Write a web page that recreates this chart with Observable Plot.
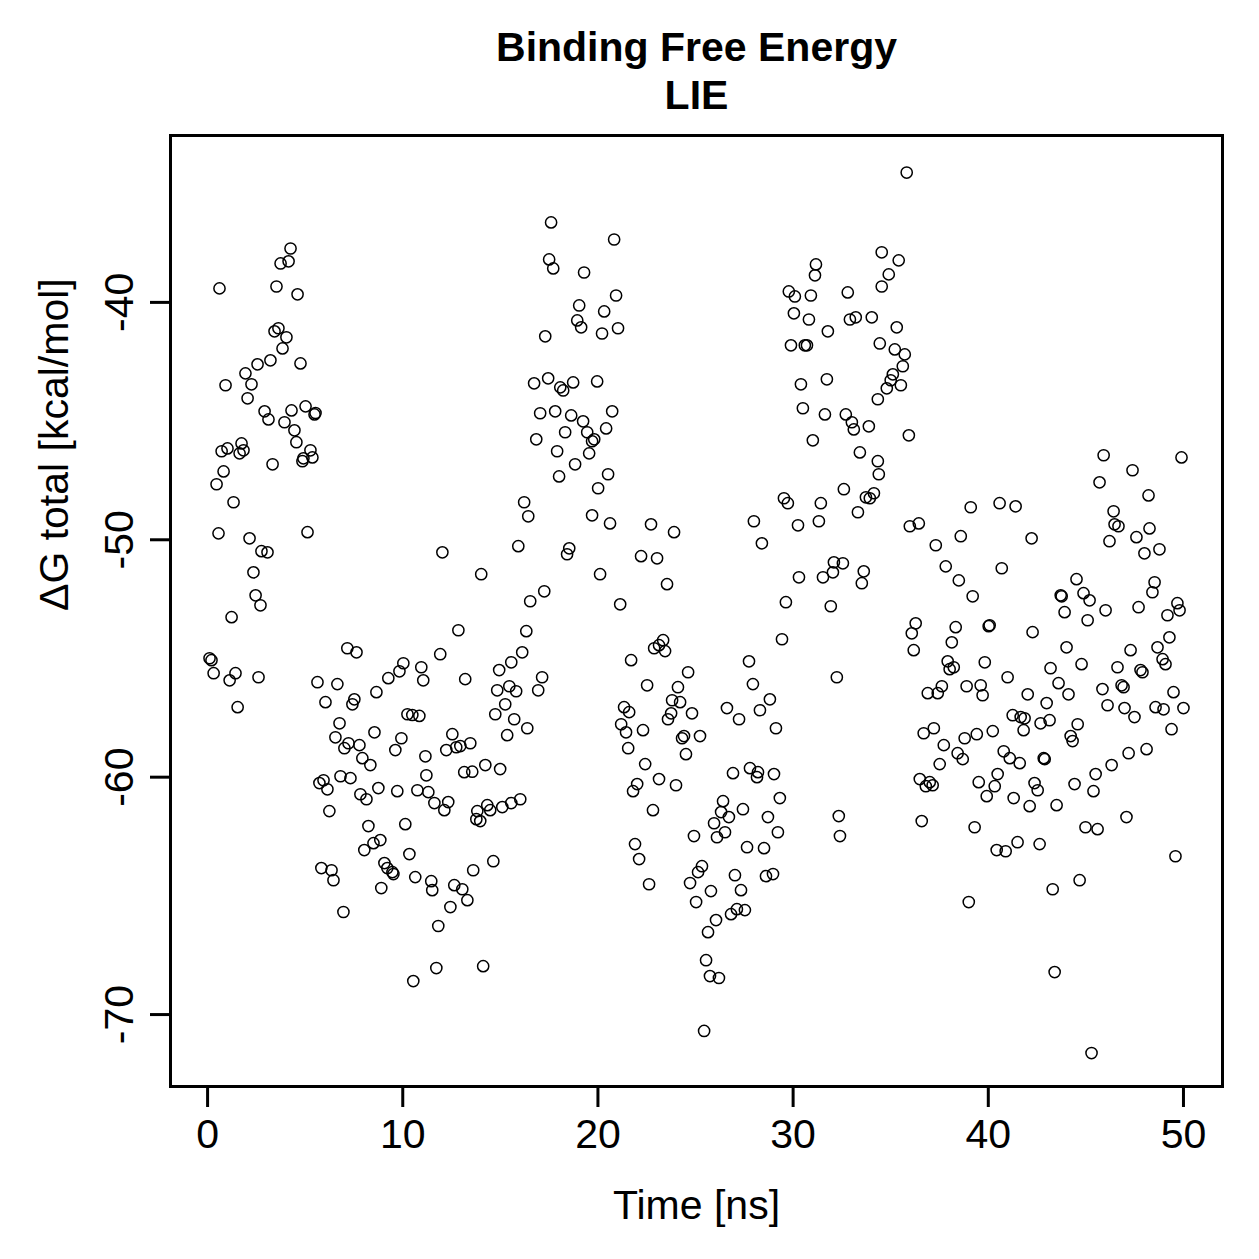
<!DOCTYPE html>
<html>
<head>
<meta charset="utf-8">
<script src="https://cdn.jsdelivr.net/npm/d3@7"></script>
<script src="https://cdn.jsdelivr.net/npm/@observablehq/plot@0.6"></script>
<style>
  html, body { margin: 0; padding: 0; background: #ffffff; }
  #chart svg { display: block; }
</style>
</head>
<body>
<div id="chart"></div>
<script>
// LIE binding free energy samples, [time (ns), ΔG total (kcal/mol)], grouped by trajectory window
const window1 = [
  [0.10,-54.99],[0.20,-55.07],[0.31,-55.62],[0.46,-47.66],[0.56,-49.73],[0.61,-39.41],[0.72,-46.27],
  [0.82,-47.12],[0.92,-43.49],[1.02,-46.15],[1.13,-55.92],[1.23,-53.26],[1.33,-48.42],[1.43,-55.62],
  [1.54,-57.05],[1.64,-46.36],[1.74,-45.94],[1.84,-46.23],[1.94,-42.99],[2.05,-44.04],[2.15,-49.94],
  [2.25,-43.45],[2.35,-51.37],[2.46,-52.34],[2.56,-42.61],[2.61,-55.79],[2.71,-52.76],[2.76,-50.48],
  [2.92,-44.59],[3.07,-50.53],[3.12,-44.93],[3.22,-42.44],[3.33,-46.82],[3.43,-41.22],[3.53,-39.33],
  [3.63,-41.09],[3.74,-38.36],[3.84,-41.94],[3.94,-45.05],[4.04,-41.47],[4.15,-38.27],[4.25,-37.73],
  [4.30,-44.55],[4.45,-45.39],[4.55,-45.89],[4.61,-39.66],[4.76,-42.57],[4.86,-46.69],[4.91,-46.57],
  [5.02,-44.38],[5.12,-49.68],[5.27,-46.23],[5.37,-46.53],[5.48,-44.72],[5.53,-44.66]
];
const window2 = [
  [5.63,-56.00],[6.04,-56.84],[5.73,-60.25],[5.94,-60.13],[6.14,-60.51],[5.83,-63.83],[6.35,-63.92],
  [6.45,-64.34],[6.24,-61.43],[6.65,-56.08],[6.76,-57.73],[6.55,-58.32],[6.81,-59.96],[6.96,-65.68],
  [7.16,-54.57],[7.22,-58.57],[7.01,-58.78],[7.32,-60.04],[7.52,-56.72],[7.42,-56.93],[7.63,-54.74],
  [7.78,-58.65],[7.83,-60.72],[7.93,-59.20],[8.14,-60.93],[8.03,-63.07],[8.24,-62.06],[8.34,-59.49],
  [8.50,-62.78],[8.55,-58.11],[8.65,-56.42],[8.75,-60.46],[8.85,-62.65],[8.90,-64.67],[9.06,-63.62],
  [9.21,-63.83],[9.47,-64.00],[9.52,-64.08],[9.26,-55.83],[9.62,-58.86],[9.72,-60.59],[9.83,-55.54],
  [9.93,-58.36],[10.03,-55.20],[10.13,-61.98],[10.24,-57.35],[10.34,-63.24],[10.49,-57.38],[10.54,-68.59],
  [10.64,-64.21],[10.75,-60.55],[10.85,-57.42],[10.95,-55.37],[11.05,-55.92],[11.16,-59.12],[11.21,-59.92],
  [11.31,-60.63],[11.46,-64.38],[11.51,-64.76],[11.62,-61.09],[11.72,-68.04],[11.82,-66.27],[11.92,-54.82],
  [12.03,-50.53],[12.13,-61.39],[12.23,-58.86],[12.33,-61.05],[12.44,-65.47],[12.54,-58.19],[12.64,-64.55],
  [12.74,-58.74],[12.85,-53.81],[12.95,-58.69],[13.05,-64.72],[13.15,-59.79],[13.20,-55.87],[13.31,-65.18],
  [13.46,-58.57],[13.56,-59.77],[13.61,-63.92],[13.77,-61.77],[13.82,-61.43],[13.97,-61.85],[14.02,-51.45],
  [14.12,-67.96],[14.23,-59.49],[14.33,-61.18],[14.48,-61.39],[14.64,-63.54],[14.74,-57.35],[14.84,-56.34],
  [14.94,-55.49],[14.99,-59.66],[15.10,-61.26],[15.25,-56.93],[15.35,-58.23],[15.46,-56.17],[15.56,-55.16],
  [15.56,-61.09],[15.71,-57.56],[15.81,-56.38],[15.92,-50.27],[16.02,-60.93],[16.12,-54.74],[16.22,-48.42],
  [16.33,-53.85],[16.38,-57.94],[16.43,-49.01],[16.53,-52.59]
];
const window3 = [
  [16.73,-43.41],[17.45,-43.20],[18.07,-43.58],[18.22,-43.71],[18.73,-43.37],[19.96,-43.33],[17.04,-44.67],
  [17.81,-44.59],[18.63,-44.76],[19.24,-45.01],[20.73,-44.59],[18.32,-45.47],[19.45,-45.47],[19.70,-45.85],
  [19.81,-45.77],[20.42,-45.31],[16.84,-45.77],[17.91,-46.27],[19.55,-46.36],[18.83,-46.82],[17.60,-36.63],
  [20.83,-37.35],[17.50,-38.19],[17.71,-38.57],[19.29,-38.74],[20.93,-39.71],[19.04,-40.13],[20.32,-40.38],
  [18.94,-40.76],[19.14,-41.05],[17.30,-41.43],[20.21,-41.31],[21.03,-41.09],[18.01,-47.33],[20.52,-47.24],
  [20.01,-47.83],[19.70,-48.97],[20.62,-49.31],[22.72,-49.35],[23.90,-49.68],[18.53,-50.36],[18.42,-50.61],
  [22.21,-50.69],[23.03,-50.78],[20.11,-51.45],[23.54,-51.87],[17.25,-52.17],[21.14,-52.72],[23.34,-54.23],
  [23.13,-54.44],[22.88,-54.57],[23.44,-54.69],[21.70,-55.07],[24.62,-55.58],[22.52,-56.13],[24.10,-56.21],
  [17.14,-55.79],[16.94,-56.34],[23.80,-56.76],[24.21,-56.84],[21.34,-57.05],[21.60,-57.26],[23.75,-57.31],
  [23.59,-57.56],[24.82,-57.31],[21.19,-57.77],[21.44,-58.11],[22.31,-58.02],[24.41,-58.27],[24.31,-58.36],
  [25.23,-58.27],[21.55,-58.78],[24.51,-59.03],[22.42,-59.45],[22.01,-60.29],[23.13,-60.08],[24.00,-60.34],
  [21.80,-60.59],[22.82,-61.39],[21.90,-62.82],[22.11,-63.45],[22.62,-64.51]
];
const window4 = [
  [27.74,-55.12],[27.94,-56.08],[28.81,-56.72],[26.61,-57.09],[27.23,-57.56],[28.30,-57.18],[29.12,-57.94],
  [26.92,-59.83],[27.79,-59.62],[28.20,-59.79],[28.15,-60.00],[29.02,-59.87],[26.41,-61.01],[27.43,-61.35],
  [26.31,-61.47],[26.71,-61.68],[25.95,-61.94],[24.92,-62.48],[26.10,-62.53],[26.51,-62.32],[29.32,-60.88],
  [28.71,-61.68],[29.22,-62.32],[27.64,-62.95],[28.51,-62.99],[25.33,-63.75],[25.13,-64.00],[24.72,-64.46],
  [25.79,-64.80],[25.03,-65.26],[27.02,-64.13],[27.33,-64.76],[28.97,-64.08],[28.61,-64.17],[26.05,-66.02],
  [25.64,-66.53],[26.82,-65.77],[27.12,-65.56],[27.53,-65.60],[25.54,-67.71],[25.74,-68.38],[26.20,-68.46],
  [25.44,-70.69]
];
const window5 = [
  [31.17,-38.40],[31.12,-38.86],[29.78,-39.54],[30.09,-39.75],[30.91,-39.71],[32.80,-39.58],[34.54,-37.89],
  [34.54,-39.33],[30.04,-40.46],[30.81,-40.72],[31.78,-41.22],[32.91,-40.72],[33.21,-40.63],[34.03,-40.63],
  [34.44,-41.73],[29.89,-41.81],[30.60,-41.81],[30.71,-41.81],[30.40,-43.45],[31.73,-43.24],[30.50,-44.46],
  [31.63,-44.72],[32.70,-44.72],[33.01,-45.05],[33.11,-45.35],[33.88,-45.22],[31.01,-45.81],[33.42,-46.32],
  [34.34,-46.69],[34.34,-44.08],[35.82,-34.53],[35.41,-38.23],[34.90,-38.82],[35.31,-41.05],[35.21,-41.98],
  [35.72,-42.19],[35.62,-42.69],[35.11,-43.03],[35.00,-43.28],[34.80,-43.62],[35.52,-43.49],[35.93,-45.60],
  [34.39,-47.24],[29.43,-54.19],[32.24,-55.79],[29.63,-52.63],[31.93,-52.80],[30.30,-51.58],[31.53,-51.58],
  [32.04,-51.37],[32.09,-50.95],[32.55,-50.99],[33.62,-51.33],[33.52,-51.83],[27.99,-49.22],[28.40,-50.15],
  [29.53,-48.25],[29.73,-48.46],[30.25,-49.39],[31.32,-49.22],[31.42,-48.46],[32.60,-47.87],[33.32,-48.84],
  [33.73,-48.21],[33.93,-48.25],[34.14,-48.04],[32.34,-61.64],[32.40,-62.48]
];
const window6 = [
  [45.91,-46.44],[49.90,-46.53],[47.39,-47.07],[45.70,-47.58],[48.21,-48.13],[46.42,-48.80],[46.47,-49.35],
  [46.67,-49.43],[48.26,-49.52],[46.21,-50.06],[47.59,-49.89],[48.00,-50.57],[48.77,-50.40],[39.10,-48.63],
  [40.58,-48.46],[41.40,-48.59],[35.98,-49.43],[36.44,-49.31],[38.59,-49.85],[42.22,-49.94],[37.31,-50.23],
  [37.82,-51.12],[40.69,-51.20],[38.49,-51.71],[39.20,-52.38],[44.52,-51.66],[43.71,-52.34],[43.76,-52.38],
  [44.88,-52.25],[45.19,-52.55],[43.91,-53.05],[45.09,-53.39],[46.01,-52.97],[47.70,-52.84],[48.52,-51.79],
  [48.41,-52.21],[49.69,-52.67],[49.80,-52.97],[49.18,-53.18],[36.28,-53.52],[36.08,-53.94],[36.18,-54.65],
  [38.33,-53.68],[38.13,-54.32],[40.02,-53.64],[40.07,-53.60],[42.27,-53.89],[44.01,-54.53],[44.78,-55.24],
  [43.19,-55.41],[43.60,-56.04],[44.11,-56.51],[45.85,-56.29],[46.11,-56.97],[46.98,-57.09],[47.49,-57.47],
  [46.62,-55.37],[47.29,-54.65],[47.80,-55.49],[47.90,-55.58],[46.83,-56.13],[46.93,-56.21],[49.28,-54.11],
  [48.67,-54.53],[48.93,-55.03],[49.08,-55.24],[49.49,-56.42],[48.57,-57.05],[48.98,-57.14],[50.00,-57.09],
  [49.39,-57.98],[48.11,-58.82],[47.19,-58.99],[46.32,-59.49],[45.50,-59.87],[37.92,-55.12],[38.02,-55.45],
  [38.23,-55.37],[39.82,-55.16],[40.99,-55.79],[37.62,-56.17],[37.41,-56.46],[36.90,-56.46],[38.89,-56.17],
  [39.61,-56.13],[39.71,-56.55],[42.02,-56.51],[42.99,-56.88],[41.25,-57.39],[41.66,-57.47],[41.86,-57.52],
  [41.81,-58.02],[42.68,-57.73],[43.14,-57.60],[44.58,-57.77],[44.22,-58.27],[44.32,-58.48],[36.69,-58.15],
  [37.21,-57.94],[37.72,-58.65],[38.79,-58.36],[39.41,-58.19],[40.23,-58.06],[38.43,-58.99],[38.69,-59.24],
  [37.51,-59.45],[40.79,-58.91],[41.10,-59.20],[41.61,-59.41],[42.84,-59.20],[42.89,-59.24],[40.48,-59.87],
  [36.49,-60.08],[36.80,-60.38],[37.00,-60.21],[37.15,-60.34],[39.51,-60.21],[40.33,-60.38],[42.37,-60.25],
  [44.42,-60.29],[39.92,-60.80],[41.30,-60.88],[42.53,-60.55],[42.12,-61.22],[43.50,-61.18],[45.39,-60.59],
  [47.08,-61.68],[44.98,-62.11],[45.60,-62.19],[36.59,-61.85],[39.30,-62.11],[41.50,-62.74],[40.43,-63.07],
  [40.89,-63.12],[42.63,-62.82],[49.59,-63.33],[44.68,-64.34],[43.30,-64.72],[39.00,-65.26],[43.40,-68.21],
  [45.29,-71.62]
];

const xTicks = [0, 10, 20, 30, 40, 50];
const yTicks = [-70, -60, -50, -40];
const titleLines = ["Binding Free Energy", "LIE"];
const xLabel = "Time [ns]";
const yLabel = "ΔG total [kcal/mol]";

const samples = [window1, window2, window3, window4, window5, window6]
  .flat()
  .map(([t, g]) => ({time: t, dG: g}));

const fontSize = 41;

const chart = Plot.plot({
  width: 1259,
  height: 1259,
  marginLeft: 170,
  marginRight: 37,
  marginTop: 135,
  marginBottom: 173,
  style: {
    fontFamily: "'Liberation Sans', Arial, Helvetica, sans-serif",
    background: "#ffffff",
    color: "#000000"
  },
  // data range padded by 4% on each side
  x: {domain: [-1.9, 52.0]},
  y: {domain: [-73.03, -32.97]},
  marks: [
    Plot.dot(samples, {
      x: "time", y: "dG",
      r: 5.6, fill: "none", stroke: "#000000", strokeWidth: 1.5
    }),
    Plot.frame({stroke: "#000000", strokeWidth: 3}),
    Plot.axisX({
      ticks: xTicks, tickSize: 21, tickPadding: 11,
      strokeWidth: 3, fontSize, label: null,
      tickFormat: (d) => String(d)
    }),
    Plot.axisY({
      ticks: yTicks, tickSize: 20, tickPadding: 18, tickRotate: -90,
      strokeWidth: 3, fontSize, label: null,
      tickFormat: (d) => String(d)
    }),
    Plot.text([xLabel], {
      frameAnchor: "bottom", dy: 132, lineAnchor: "bottom",
      text: (d) => d, fontSize
    }),
    Plot.text([yLabel], {
      frameAnchor: "left", dx: -103, rotate: -90, lineAnchor: "bottom",
      text: (d) => d, fontSize
    }),
    Plot.text([titleLines[0]], {
      frameAnchor: "top", dy: -75, lineAnchor: "bottom",
      text: (d) => d, fontSize, fontWeight: "bold"
    }),
    Plot.text([titleLines[1]], {
      frameAnchor: "top", dy: -27, lineAnchor: "bottom",
      text: (d) => d, fontSize, fontWeight: "bold"
    })
  ]
});

document.getElementById("chart").appendChild(chart);
</script>
</body>
</html>
